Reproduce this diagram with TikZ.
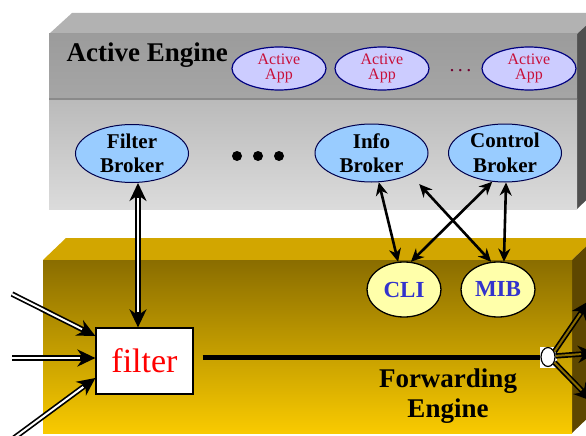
\documentclass[tikz,border=0pt]{standalone}
\usepackage{fontspec}
\setmainfont{Liberation Serif}
\usetikzlibrary{arrows.meta}
\usetikzlibrary{shapes.geometric}
\definecolor{appline}{HTML}{000080}
\definecolor{appfill}{HTML}{CCCCFF}
\definecolor{apptext}{HTML}{C8103A}
\definecolor{dotred}{HTML}{700030}
\definecolor{brokerfill}{HTML}{99CCFF}
\definecolor{mgmtfill}{HTML}{FFFFAA}
\definecolor{mgmttext}{HTML}{3333CC}
\definecolor{fwdtop}{HTML}{D2A600}
\definecolor{fwdside}{HTML}{5E4700}
\definecolor{fwddark}{HTML}{8A6D00}
\definecolor{fwdlight}{HTML}{F9CA00}
\tikzset{app/.style = {ellipse, draw=appline, line width=1.2pt, fill=appfill,
                       text=apptext, inner sep=0pt, minimum width=94pt,
                       minimum height=43pt, align=center,
                       font=\fontsize{16}{15.5}\selectfont},
         broker/.style = {ellipse, draw=appline!60!black, line width=1pt,
                          fill=brokerfill, inner sep=0pt, minimum width=113pt,
                          minimum height=58pt, align=center,
                          font=\bfseries\fontsize{21}{24.5}\selectfont},
         mgmt/.style = {ellipse, draw, line width=1.3pt, fill=mgmtfill,
                        text=mgmttext, inner sep=0pt, minimum width=74pt,
                        minimum height=55pt,
                        font=\bfseries\fontsize{23}{24}\selectfont},
         ctl/.style = {line width=2.6pt, <->,
                       >={Stealth[length=13pt,width=12pt]}},
         dbl/.style = {line width=5.4pt, ->, >={Stealth[length=18pt,width=17pt]},
                       postaction={draw=#1, line width=2pt, -,
                                   shorten >=15pt}},
         dbl/.default = white,
         dblboth/.style = {line width=5.4pt, <->,
                           >={Stealth[length=18pt,width=17pt]},
                           postaction={draw=white, line width=2pt, -,
                                       shorten >=15pt, shorten <=15pt}}}

\begin{document}
\begin{tikzpicture}[x=1pt, y=-1pt]
  \useasboundingbox (0,0) rectangle (586,436);
  \clip (0,0) rectangle (586,436);
  % active engine block
  \fill[gray!60] (49,34) -- (72,13) -- (600,13) -- (577,34) -- cycle;
  \fill[black!69] (577,34) -- (600,13) -- (600,187) -- (577,209) -- cycle;
  \shade[top color=black!39, bottom color=black!35] (49,34) rectangle (577,99);
  \shade[top color=black!27, bottom color=black!14] (49,99) rectangle (577,209);
  \draw[black!46, line width=2.5pt] (49,99) -- (577,99);
  % forwarding engine block
  \fill[fwdtop] (43,260) -- (66,238) -- (595,238) -- (572,260) -- cycle;
  \fill[fwdside] (572,260) -- (595,238) -- (595,411) -- (572,433) -- cycle;
  \shade[top color=fwddark, bottom color=fwdlight] (43,260) rectangle (572,433);

  \node[anchor=base west, font=\bfseries\fontsize{27}{30}\selectfont]
    (aetitle) at (63,62) {Active Engine};
  \node[app] (app1) at (279,68.5) {Active\\App};
  \node[app] (app2) at (382,68.5) {Active\\App};
  \node[anchor=base, text=dotred, font=\fontsize{20}{20}\selectfont]
    (appdots) at (460.5,71.5) {.\,.\,.};
  \node[app] (app3) at (529,68.5) {Active\\App};

  \node[broker] (fbroker) at (132,153.5) {Filter\\Broker};
  \foreach \x in {237,258,279}
    \fill (\x,156) circle (5pt);
  \node[broker] (ibroker) at (371.5,153) {Info\\Broker};
  \node[broker] (cbroker) at (505,153) {Control\\Broker};

  \node[mgmt] (cli) at (404,289.5) {CLI};
  \node[mgmt] (mib) at (498,289.5) {MIB};
  \node[draw, fill=white, line width=1.2pt, minimum width=97pt,
        minimum height=66pt, text=red, font=\fontsize{34}{36}\selectfont]
    (filter) at (144.5,361) {filter};
  \node[align=center, font=\bfseries\fontsize{27}{30}\selectfont]
    (fwdlabel) at (448,396) {Forwarding\\Engine};
  \node[fill=white, inner sep=0pt, minimum width=17pt, minimum height=21pt]
    (jbox) at (548,357) {};
  \node[ellipse, draw, fill=white, line width=1.2pt, inner sep=0pt,
        minimum width=14pt, minimum height=19pt] (junc) at (jbox) {};

  \coordinate (in1) at (12,294);
  \coordinate (in2) at (12,358);
  \coordinate (in3) at (14,438);
  \coordinate (out1) at (589,301);
  \coordinate (out2) at (596,353);
  \coordinate (out3) at (592,401);

  \draw[ctl] (ibroker.-76) -- (cli.102);
  \draw[ctl] (cbroker.-114) -- (cli.76);
  \draw[ctl, shorten <=13pt] (ibroker.-29) -- (mib.104);
  \draw[ctl] (cbroker.-88) -- (mib.78);
  \draw[dblboth] ([xshift=6pt]fbroker.south) -- ([xshift=-6.5pt]filter.north);
  \draw[dbl] (in1) -- ([yshift=25pt]filter.west);
  \draw[dbl] (in2) -- ([yshift=3pt]filter.west);
  \draw[dbl] (in3) -- ([yshift=-17pt]filter.west);
  \draw[line width=5pt, shorten <=9pt] ([yshift=4pt]filter.east) -- (junc.west);
  \draw[dbl=fwddark] (junc.40) -- (out1);
  \draw[dbl=fwddark] (junc.8) -- (out2);
  \draw[dbl=fwddark] (junc.-40) -- (out3);
\end{tikzpicture}
\end{document}
